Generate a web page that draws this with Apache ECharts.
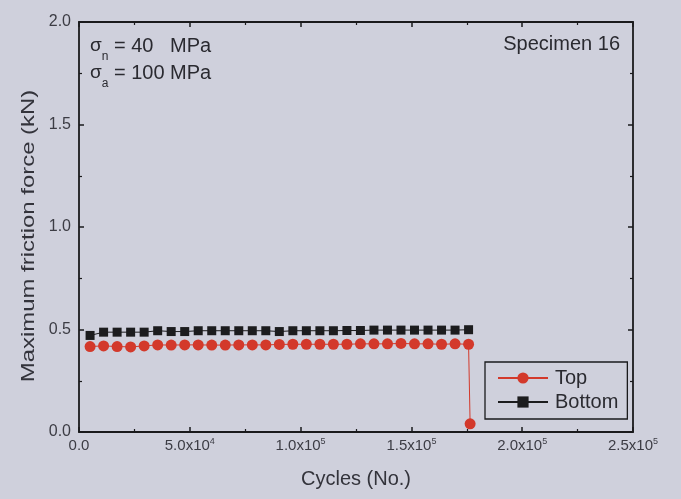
<!DOCTYPE html>
<html>
<head>
<meta charset="utf-8">
<script src="https://cdn.jsdelivr.net/npm/echarts@6/dist/echarts.min.js"></script>
<style>
  html, body { margin: 0; padding: 0; background: #cfd0dc; }
  #chart { width: 681px; height: 499px; }
</style>
</head>
<body>
<div id="chart"></div>
<script>
// Cycle counts at which the maximum friction force was recorded
const cycles = [5000, 11100, 17200, 23300, 29400, 35500, 41600, 47700, 53800, 59900,
  66000, 72100, 78200, 84300, 90400, 96500, 102600, 108700, 114800, 120900,
  127000, 133100, 139200, 145300, 151400, 157500, 163600, 169700, 175800];

// Top specimen (kN); the extra point after the last cycle is the failure
const topForce = [0.417, 0.420, 0.417, 0.415, 0.420, 0.425, 0.424, 0.425, 0.425, 0.424,
  0.424, 0.425, 0.425, 0.425, 0.427, 0.428, 0.428, 0.428, 0.428, 0.428,
  0.430, 0.430, 0.430, 0.432, 0.430, 0.430, 0.428, 0.430, 0.428];
const failureCycle = 176500;
const failureForce = 0.04;

// Bottom specimen (kN)
const bottomForce = [0.471, 0.487, 0.487, 0.487, 0.487, 0.494, 0.490, 0.490, 0.494, 0.494,
  0.494, 0.494, 0.494, 0.494, 0.490, 0.494, 0.494, 0.494, 0.494, 0.495,
  0.495, 0.497, 0.497, 0.497, 0.497, 0.497, 0.497, 0.497, 0.499];

// Axis tick labels
const xTickLabels = {
  0: '{b|0.0}',
  50000: '{b|5.0x10}{sup|4}',
  100000: '{b|1.0x10}{sup|5}',
  150000: '{b|1.5x10}{sup|5}',
  200000: '{b|2.0x10}{sup|5}',
  250000: '{b|2.5x10}{sup|5}'
};
const yTickLabels = { 0: '0.0', 0.5: '0.5', 1: '1.0', 1.5: '1.5', 2: '2.0' };

const FONT = '"Liberation Sans", Arial, sans-serif';
const AXIS_COLOR = '#1a1a1c';
const LABEL_COLOR = '#3c3c44';
const TEXT_COLOR = '#2a2a30';

const topData = cycles.map((c, i) => [c, topForce[i]]);
topData.push([failureCycle, failureForce]);
const bottomData = cycles.map((c, i) => [c, bottomForce[i]]);

const chart = echarts.init(document.getElementById('chart'), null, { renderer: 'canvas' });

const frameAxis = () => ({
  axisLine: { show: true, onZero: false, lineStyle: { color: AXIS_COLOR, width: 1.8 } },
  axisTick: { show: true, inside: true, length: 5, lineStyle: { color: AXIS_COLOR, width: 1.5 } },
  minorTick: { show: true, splitNumber: 2, length: 3, lineStyle: { color: AXIS_COLOR, width: 1.2 } },
  splitLine: { show: false },
  axisLabel: { show: false }
});

// Greek sigma with a subscript
const sigma = (sub) => '{g|σ}{sub|' + sub + '}';

const annotRich = {
  g: { fontFamily: FONT, fontSize: 19, fill: TEXT_COLOR, lineHeight: 34 },
  sub: { fontFamily: FONT, fontSize: 12, fill: TEXT_COLOR, lineHeight: 10, verticalAlign: 'bottom' },
  t: { fontFamily: FONT, fontSize: 20, fill: TEXT_COLOR, lineHeight: 34 }
};

chart.setOption({
  backgroundColor: '#cfd0dc',
  animation: false,
  grid: { left: 79, right: 48, top: 22, bottom: 67 },
  xAxis: [
    Object.assign(frameAxis(), {
      type: 'value', position: 'bottom', min: 0, max: 250000, interval: 50000,
      axisLabel: {
        show: true, margin: 5, color: LABEL_COLOR, fontFamily: FONT,
        formatter: v => xTickLabels[v] !== undefined ? xTickLabels[v] : '',
        rich: {
          b: { fontSize: 15, fontFamily: FONT, color: LABEL_COLOR, lineHeight: 18 },
          sup: { fontSize: 9, fontFamily: FONT, color: LABEL_COLOR, lineHeight: 9, verticalAlign: 'top' }
        }
      },
      name: 'Cycles (No.)', nameLocation: 'middle', nameGap: 37,
      nameTextStyle: { fontFamily: FONT, fontSize: 20, color: '#33333b' }
    }),
    Object.assign(frameAxis(), {
      type: 'value', position: 'top', min: 0, max: 250000, interval: 50000
    })
  ],
  yAxis: [
    Object.assign(frameAxis(), {
      type: 'value', position: 'left', min: 0, max: 2, interval: 0.5,
      axisLabel: {
        show: true, margin: 8, color: LABEL_COLOR, fontFamily: FONT, fontSize: 16,
        formatter: v => yTickLabels[v] !== undefined ? yTickLabels[v] : ''
      }
    }),
    Object.assign(frameAxis(), {
      type: 'value', position: 'right', min: 0, max: 2, interval: 0.5
    })
  ],
  legend: {
    orient: 'vertical',
    left: 485, top: 362,
    itemWidth: 50, itemHeight: 14, itemGap: 4,
    padding: [6, 9, 7, 12],
    borderColor: '#1a1a1c', borderWidth: 1.3, borderRadius: 0,
    textStyle: { fontFamily: FONT, fontSize: 20, color: TEXT_COLOR, padding: [0, 0, 0, 2] },
    data: ['Top', 'Bottom']
  },
  series: [
    {
      name: 'Bottom', type: 'line', data: bottomData,
      symbol: 'rect', symbolSize: 9,
      itemStyle: { color: '#1c1c1e' },
      lineStyle: { color: '#1c1c1e', width: 1 },
      z: 3
    },
    {
      name: 'Top', type: 'line', data: topData,
      symbol: 'circle', symbolSize: 11,
      itemStyle: { color: '#d3392b' },
      lineStyle: { color: '#d3392b', width: 1 },
      z: 4
    }
  ],
  graphic: [
    {
      type: 'text', left: 90, top: 36,
      style: { text: sigma('n') + '{t| = 40   MPa}', rich: annotRich }
    },
    {
      type: 'text', left: 90, top: 63,
      style: { text: sigma('a') + '{t| = 100 MPa}', rich: annotRich }
    },
    {
      type: 'text', right: 61, top: 34,
      style: { text: 'Specimen 16', fontFamily: FONT, fontSize: 20, fill: TEXT_COLOR }
    },
    {
      type: 'text', x: 29, y: 236, rotation: Math.PI / 2, scaleX: 1.33,
      style: {
        text: 'Maximum friction force (kN)', fontFamily: FONT, fontSize: 18,
        fill: '#33333b', align: 'center', verticalAlign: 'middle'
      }
    }
  ]
});
</script>
</body>
</html>
